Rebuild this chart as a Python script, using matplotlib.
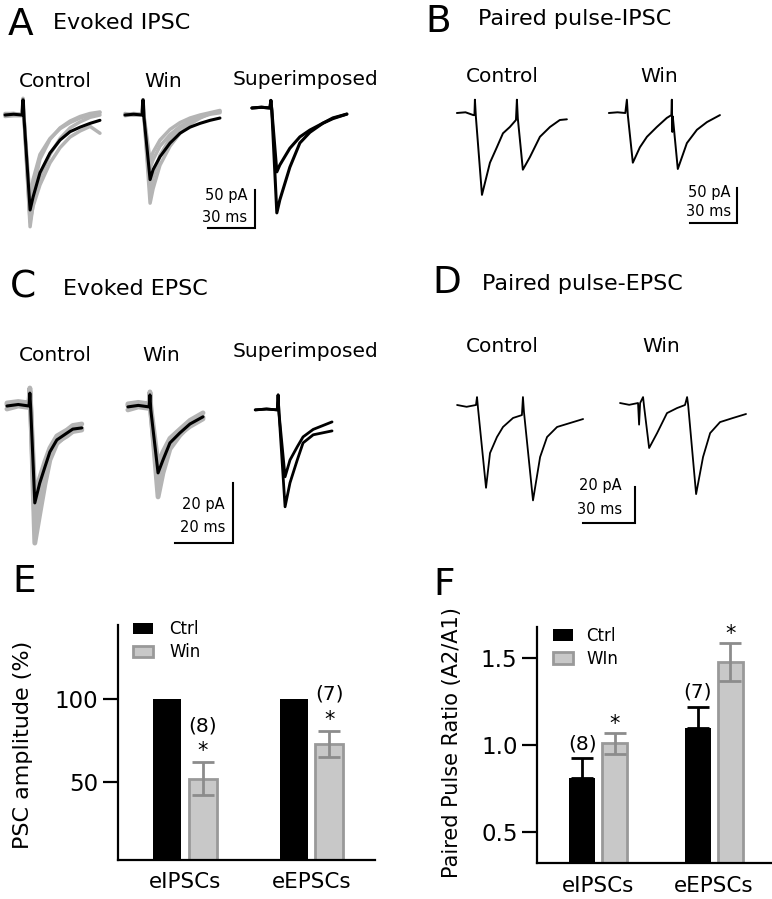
import numpy as np
import matplotlib
matplotlib.use('Agg')
import matplotlib.pyplot as plt

plt.rcParams['font.family'] = 'DejaVu Sans'

W, H = 772, 899

# ---------------- trace data (ms relative to stimulus, pA relative to baseline) ----------------
# A: evoked IPSC
a_t = [-11.5, -6, -0.6, 0, 0.6, 4.5, 6.4, 10.8, 17.2, 23.6, 30.0, 36.4, 42.8, 49.1]
a_ctrl = [0, 1, 0, 20, -3, -125, -108, -76, -50, -33, -22, -16, -11, -7]
a_ctrl_gray = [
    [1, 0, 0, 22, -3, -147, -118, -82, -52, -31, -17, -9, -3, 0],
    [2, 2, 1, 20, -2, -135, -100, -58, -32, -17, -8, -2, 2, 4],
    [-2, -1, -1, 18, -3, -112, -85, -52, -31, -18, -10, -4, 0, 3],
    [1, 2, 0, 20, -2, -140, -120, -92, -63, -43, -29, -21, -15, -24],
]
a_win = [0, 1, 0, 20, -3, -85, -72, -55, -37, -24, -16, -11, -7, -4]
a_win_gray = [
    [1, 0, 1, 20, -2, -116, -97, -66, -41, -24, -12, -4, 2, 5],
    [-1, 1, 0, 18, -3, -100, -82, -53, -31, -18, -8, -2, 2, 4],
    [0, 2, 1, 19, -2, -70, -59, -41, -26, -15, -8, -3, 1, 3],
    [2, 0, 1, 20, -1, -60, -49, -33, -19, -10, -4, 0, 3, 6],
]
a_sup_t = [-12.1, -6, -0.6, 0, 0.6, 3.8, 5.7, 12.1, 18.5, 24.9, 33.2, 39.6, 48.5]
a_sup_ctrl = [0, 1, 0, 10, -3, -138, -121, -78, -46, -32, -20, -13, -8]
a_sup_win = [0, 1, 0, 10, -3, -84, -75, -53, -38, -29, -20, -14, -8]

# B: paired pulse IPSC
b_ctrl_t = [-11.5, -6, -1.0, -0.3, 0, 0.6, 4.5, 9.6, 14.0, 17.9, 22.3, 26.2, 26.8, 27.4,
            30.6, 35.1, 41.5, 47.9, 54.2, 58.7]
b_ctrl = [0, 1, -3, -3, 19, -5, -117, -71, -49, -29, -20, -10, 19, -8,
          -81, -63, -34, -20, -10, -9]
b_win_t = [-11.5, -6, -1.0, 0, 0.6, 3.8, 8.3, 12.8, 19.1, 25.5, 28.4, 28.7, 29.0, 29.3,
           32.5, 38.3, 44.7, 51.1, 59.4]
b_win = [0, 1, 0, 19, -3, -71, -49, -34, -20, -7, -3, 19, -27, -5,
         -80, -43, -24, -13, -3]

# C: evoked EPSC
c_t = [-7.9, -4, -0.3, 0, 0.3, 1.7, 3.4, 5.2, 6.9, 9.3, 12.8, 14.8, 17.9]
c_ctrl = [0, 0.5, 0, 4.3, -1, -32.3, -25.7, -20.3, -15.3, -11.3, -9, -7.7, -7.3]
c_ctrl_gray = [
    [0.5, 1, 1, 5, -1, -45.7, -36, -26, -18, -12.5, -9.5, -8, -7.5],
    [-1, 0, -0.5, 4, -2, -38, -29, -22, -16, -12, -10, -8.5, -8],
    [1, 1.5, 1, 6, 0, -30, -24, -18.5, -14, -10, -8, -6.5, -6],
]
c_win_t = [-7.6, -4, -0.3, 0, 0.3, 2.8, 4.5, 6.9, 10.3, 13.8, 18.3]
c_win = [0, 0.5, 0, 4, -1, -22, -17.7, -12, -8.7, -5.7, -3.3]
c_win_gray = [
    [0.5, 1, 0.5, 4.5, -1, -30, -22, -14, -9.5, -6, -3.5],
    [-1, 0, -0.5, 3.5, -2, -25, -19, -13, -9, -6.5, -4],
    [1, 1.5, 1, 5, 0, -19, -15, -10.5, -7.5, -4.5, -2],
]
c_sup_t = [-7.9, -4, -0.3, 0, 0.3, 2.4, 4.1, 6.6, 8.6, 12.1, 18.6]
c_sup_ctrl = [0, 0.3, 0, 5, -1, -32.3, -24.3, -16.7, -11, -8.3, -7]
c_sup_win = [0, 0.3, 0, 5, -1, -22.3, -16.7, -12.3, -9, -6.5, -4]

# D: paired pulse EPSC
d_ctrl_t = [-11.5, -6, -0.6, 0, 0.6, 5.2, 7.5, 11.5, 15.0, 20.8, 25.9, 26.5, 27.1,
            32.3, 36.4, 40.4, 46.2, 53.7, 61.2]
d_ctrl = [0, -1, 0, 4.4, -2, -46, -26.7, -17.8, -12.2, -7.2, -5.6, 4.4, -4,
          -53, -28.9, -17.8, -12.2, -10, -7.8]
d_win_t = [-13.3, -8, -2.9, -2.3, -1.7, 0, 0.6, 3.5, 8.1, 13.8, 19.6, 24.2, 25.4, 26.0,
           30.6, 34.6, 38.7, 44.4, 51.9, 59.4]
d_win = [0, -1, 0, -12, 0, 3.3, -2, -25, -16.7, -5.6, -2.8, -1.1, 3.3, -1,
         -50.6, -30, -16.7, -10.6, -8.3, -6.1]

# ---------------- summary data ----------------
groups = ['eIPSCs', 'eEPSCs']
n_cells = ['(8)', '(7)']
amp_ctrl = [100, 100]
amp_win = [52, 73]
amp_win_err = [10, 8]
ppr_ctrl = [0.81, 1.10]
ppr_ctrl_err = [0.115, 0.12]
ppr_win = [1.01, 1.48]
ppr_win_err = [0.06, 0.11]

GRAY = '#b4b4b4'
BAR_GRAY = '#c8c8c8'
EDGE_GRAY = '#999999'

fig = plt.figure(figsize=(W / 100, H / 100), dpi=100)


def ptext(x, y, s, size, ha='left', va='baseline'):
    fig.text(x / W, 1 - y / H, s, fontsize=size, ha=ha, va=va)


def trace_axes(left, top, right, bottom, x0, y0, px_ms, px_pa):
    # axes over a pixel box; (0 ms, 0 pA) sits at pixel (x0, y0)
    ax = fig.add_axes([left / W, 1 - bottom / H, (right - left) / W, (bottom - top) / H])
    ax.set_xlim((left - x0) / px_ms, (right - x0) / px_ms)
    ax.set_ylim((y0 - bottom) / px_pa, (y0 - top) / px_pa)
    ax.axis('off')
    return ax


def trace(ax, t, i, dt, di=0, color='k', lw=1.8):
    ax.plot(np.array(t) + dt, np.array(i) + di, color=color, lw=lw,
            solid_joinstyle='round', solid_capstyle='round')


def scale_bar(ax, x, y, ms, pa):
    ax.plot([x - ms, x, x], [y, y, y + pa], color='k', lw=1.5, solid_joinstyle='miter')


# ---------------- panel A ----------------
ax = trace_axes(0, 85, 390, 245, 0, 115, 47 / 30, 38 / 50)
for g in a_ctrl_gray:
    trace(ax, a_t, g, 14.7, color=GRAY, lw=2.5)
trace(ax, a_t, a_ctrl, 14.7, lw=2.2)
for g in a_win_gray:
    trace(ax, a_t, g, 91.3, color=GRAY, lw=2.5)
trace(ax, a_t, a_win, 91.3, lw=2.2)
trace(ax, a_sup_t, a_sup_ctrl, 172.9, 9.2, lw=2.2)
trace(ax, a_sup_t, a_sup_win, 172.9, 9.2, lw=2.2)
scale_bar(ax, 162.7, -148.7, 30, 50)
ptext(8, 35, 'A', 27)
ptext(53, 29, 'Evoked IPSC', 16)
ptext(55, 87, 'Control', 14.5, ha='center')
ptext(163, 87, 'Win', 14.5, ha='center')
ptext(306, 85, 'Superimposed', 14.5, ha='center')
ptext(247, 200, '50 pA', 10.5, ha='right')
ptext(247, 222, '30 ms', 10.5, ha='right')

# ---------------- panel B ----------------
ax = trace_axes(390, 85, 772, 245, 390, 113, 47 / 30, 35 / 50)
trace(ax, b_ctrl_t, b_ctrl, 54.2, lw=1.4)
trace(ax, b_win_t, b_win, 151.2, lw=1.4)
scale_bar(ax, 221.4, -157.1, 30, 50)
ptext(425, 32, 'B', 27)
ptext(478, 25, 'Paired pulse-IPSC', 16)
ptext(502, 82, 'Control', 14.5, ha='center')
ptext(659, 82, 'Win', 14.5, ha='center')
ptext(731, 197, '50 pA', 10.5, ha='right')
ptext(731, 216, '30 ms', 10.5, ha='right')

# ---------------- panel C ----------------
ax = trace_axes(0, 365, 390, 560, 0, 406, 58 / 20, 60 / 20)
for g in c_ctrl_gray:
    trace(ax, c_t, g, 10.3, color=GRAY, lw=3.5)
trace(ax, c_t, c_ctrl, 10.3, lw=2.2)
for g in c_win_gray:
    trace(ax, c_win_t, g, 51.7, -0.3, color=GRAY, lw=3.5)
trace(ax, c_win_t, c_win, 51.7, -0.3, lw=2.2)
trace(ax, c_sup_t, c_sup_ctrl, 95.9, -1.3, lw=2.0)
trace(ax, c_sup_t, c_sup_win, 95.9, -1.3, lw=2.0)
scale_bar(ax, 80.3, -45.7, 20, 20)
ptext(10, 298, 'C', 27)
ptext(63, 295, 'Evoked EPSC', 16)
ptext(55, 361, 'Control', 14.5, ha='center')
ptext(161, 361, 'Win', 14.5, ha='center')
ptext(306, 357, 'Superimposed', 14.5, ha='center')
ptext(225, 509, '20 pA', 10.5, ha='right')
ptext(225, 532, '20 ms', 10.5, ha='right')

# ---------------- panel D ----------------
ax = trace_axes(390, 365, 772, 560, 390, 405, 52 / 30, 36 / 20)
trace(ax, d_ctrl_t, d_ctrl, 50.2, lw=1.3)
trace(ax, d_win_t, d_win, 146.0, 1.1, lw=1.3)
scale_bar(ax, 141.4, -65.6, 30, 20)
ptext(432, 293, 'D', 27)
ptext(482, 290, 'Paired pulse-EPSC', 16)
ptext(502, 352, 'Control', 14.5, ha='center')
ptext(661, 352, 'Win', 14.5, ha='center')
ptext(622, 490, '20 pA', 10.5, ha='right')
ptext(622, 514, '30 ms', 10.5, ha='right')


# ---------------- bar panels ----------------
def bar_axes(left, top, right, bottom):
    ax = fig.add_axes([left / W, 1 - bottom / H, (right - left) / W, (bottom - top) / H])
    for s in ['top', 'right']:
        ax.spines[s].set_visible(False)
    for s in ['left', 'bottom']:
        ax.spines[s].set_linewidth(1.6)
    ax.tick_params(axis='y', length=11, width=1.6, labelsize=16.5, pad=3)
    ax.tick_params(axis='x', length=0, labelsize=15.5, pad=9)
    ax.set_xlim(-0.53, 1.5)
    ax.set_xticks([0, 1])
    ax.set_xticklabels(groups)
    return ax


x = np.arange(len(groups))
bw, off = 0.22, 0.14

# E
ax = bar_axes(118, 625, 375, 860)
ax.set_ylim(3, 145)
ax.set_yticks([50, 100])
ax.bar(x - off, amp_ctrl, bw, color='black', label='Ctrl')
ax.bar(x + off, amp_win, bw, color=BAR_GRAY, edgecolor=EDGE_GRAY, lw=2, label='Win')
ax.errorbar(x + off, amp_win, yerr=amp_win_err, fmt='none', ecolor='#8c8c8c',
            elinewidth=2, capsize=8, capthick=2)
for xi, v, e, n in zip(x + off, amp_win, amp_win_err, n_cells):
    ax.annotate('*', (xi, v + e), xytext=(0, 1), textcoords='offset pixels',
                ha='center', va='bottom', fontsize=15)
    ax.annotate(n, (xi, v + e), xytext=(0, 27), textcoords='offset pixels',
                ha='center', va='bottom', fontsize=14.5)
ax.set_ylabel('PSC amplitude (%)', fontsize=16)
ax.yaxis.set_label_coords((33 - 118) / 257, (860 - 745) / 235)
ax.legend(loc='upper left', bbox_to_anchor=(0.058, 1.02), frameon=False, fontsize=12,
          handlelength=1.2, handleheight=0.7, handletextpad=1.0, labelspacing=0.3,
          borderpad=0, borderaxespad=0)
ptext(12, 592, 'E', 27)

# F
ax = bar_axes(537, 627, 772, 863)
ax.set_ylim(0.32, 1.68)
ax.set_yticks([0.5, 1.0, 1.5])
ax.set_yticklabels(['0.5', '1.0', '1.5'])
ax.bar(x - off, ppr_ctrl, bw, color='black', label='Ctrl')
ax.bar(x + off, ppr_win, bw, color=BAR_GRAY, edgecolor=EDGE_GRAY, lw=2, label='WIn')
ax.errorbar(x - off, ppr_ctrl, yerr=[[0, 0], ppr_ctrl_err], fmt='none', ecolor='black',
            elinewidth=2, capsize=8, capthick=2)
ax.errorbar(x + off, ppr_win, yerr=ppr_win_err, fmt='none', ecolor='#8c8c8c',
            elinewidth=2, capsize=8, capthick=2)
for xi, v, e, n in zip(x - off, ppr_ctrl, ppr_ctrl_err, n_cells):
    ax.annotate(n, (xi, v + e), xytext=(0, 5), textcoords='offset pixels',
                ha='center', va='bottom', fontsize=14.5)
for xi, v, e in zip(x + off, ppr_win, ppr_win_err):
    ax.annotate('*', (xi, v + e), xytext=(0, -1), textcoords='offset pixels',
                ha='center', va='bottom', fontsize=15)
ax.set_ylabel('Paired Pulse Ratio (A2/A1)', fontsize=15)
ax.yaxis.set_label_coords((462 - 537) / 235, (863 - 743) / 236)
ax.legend(loc='upper left', bbox_to_anchor=(0.068, 1.0), frameon=False, fontsize=12,
          handlelength=1.2, handleheight=0.7, handletextpad=0.8, labelspacing=0.3,
          borderpad=0, borderaxespad=0)
ptext(433, 595, 'F', 27)

fig.savefig('out.png', dpi=100)
